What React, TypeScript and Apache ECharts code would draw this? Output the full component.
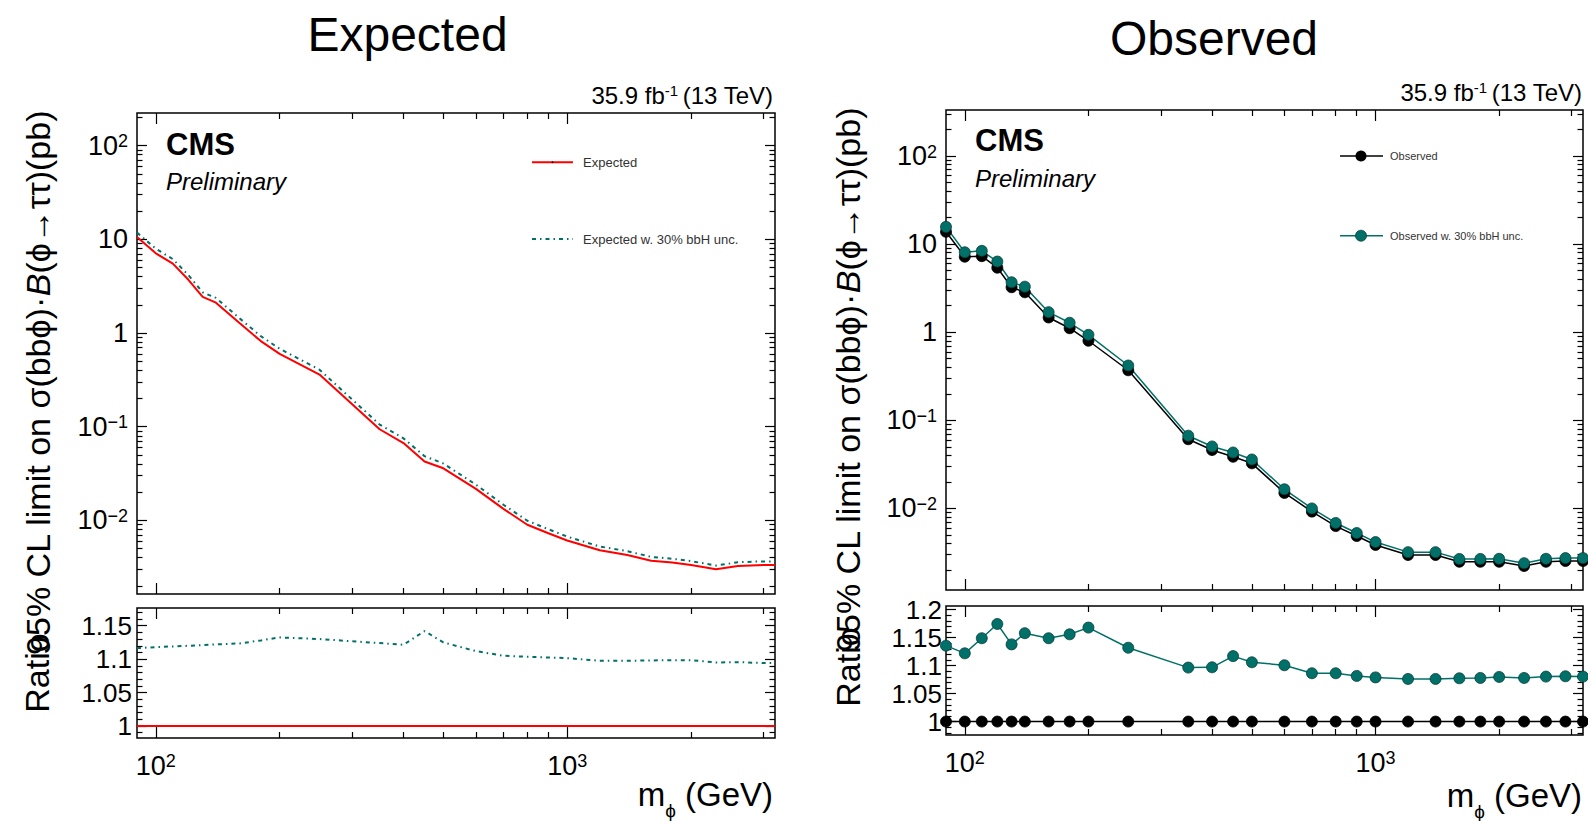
import React, { useEffect, useRef } from 'react';
import * as echarts from 'echarts';

const FONT = "'Liberation Sans', Arial, Helvetica, sans-serif";
const TEAL = '#007068';

// ---- data ----
const masses = [90, 100, 110, 120, 130, 140, 160, 180, 200, 250, 350, 400, 450, 500, 600, 700, 800, 900, 1000, 1200, 1400, 1600, 1800, 2000, 2300, 2600, 2900, 3200];

const expected = [10.6, 7.1, 5.5, 3.7, 2.43, 2.11, 1.27, 0.82, 0.6, 0.36, 0.094, 0.067, 0.0425, 0.036, 0.0217, 0.0133, 0.009, 0.0073, 0.0061, 0.0048, 0.00428, 0.00372, 0.00355, 0.00335, 0.00301, 0.00327, 0.00333, 0.00335];
const expected30 = [11.8, 7.95, 6.15, 4.15, 2.72, 2.37, 1.43, 0.925, 0.68, 0.406, 0.1055, 0.0751, 0.0485, 0.0405, 0.0241, 0.0147, 0.00993, 0.00805, 0.00672, 0.00527, 0.0047, 0.00408, 0.0039, 0.00368, 0.0033, 0.00358, 0.00364, 0.00366];
const expectedRatioRef = [1, 1, 1, 1, 1, 1, 1, 1, 1, 1, 1, 1, 1, 1, 1, 1, 1, 1, 1, 1, 1, 1, 1, 1, 1, 1, 1, 1];
const expectedRatio30 = [1.1165, 1.118, 1.119, 1.12, 1.121, 1.122, 1.1235, 1.128, 1.1325, 1.13, 1.124, 1.1215, 1.142, 1.125, 1.112, 1.105, 1.1035, 1.1025, 1.1015, 1.0975, 1.0975, 1.098, 1.0985, 1.0985, 1.095, 1.0955, 1.0945, 1.094];

const observed = [13.8, 7.2, 7.3, 5.4, 3.24, 2.84, 1.47, 1.11, 0.8, 0.37, 0.061, 0.046, 0.0386, 0.0325, 0.015, 0.0092, 0.0063, 0.00486, 0.00385, 0.00296, 0.00296, 0.00248, 0.00248, 0.00248, 0.00222, 0.00248, 0.00253, 0.00253];
const observed30 = [15.7, 8.08, 8.39, 6.34, 3.69, 3.29, 1.69, 1.28, 0.934, 0.419, 0.0669, 0.0505, 0.0431, 0.0359, 0.0165, 0.01, 0.00684, 0.00526, 0.00415, 0.00319, 0.00319, 0.00267, 0.00267, 0.00268, 0.00239, 0.00268, 0.00273, 0.00273];
const observedRatioRef = [1, 1, 1, 1, 1, 1, 1, 1, 1, 1, 1, 1, 1, 1, 1, 1, 1, 1, 1, 1, 1, 1, 1, 1, 1, 1, 1, 1];
const observedRatio30 = [1.1357, 1.122, 1.149, 1.1745, 1.138, 1.158, 1.149, 1.156, 1.168, 1.132, 1.0965, 1.097, 1.117, 1.106, 1.1007, 1.0864, 1.0864, 1.0816, 1.079, 1.0762, 1.0762, 1.0774, 1.078, 1.0798, 1.078, 1.0804, 1.081, 1.0804];

// ---- ticks ----
const X_MIN = 90;
const X_MAX = 3200;
const xMajorTicks = [100, 1000];
const xMinorTicks = [200, 300, 400, 500, 600, 700, 800, 900, 2000, 3000];
const logMajorTicks = [0.001, 0.01, 0.1, 1, 10, 100];
const logDecades = [0.001, 0.01, 0.1, 1, 10, 100];
const logMultipliers = [2, 3, 4, 5, 6, 7, 8, 9];
const logMinorTicks = logDecades.flatMap((d) => logMultipliers.map((m) => +(d * m).toPrecision(3)));
const ratioMajorTicks = [1, 1.05, 1.1, 1.15, 1.2];
const ratioMinorTicks = [0.98, 0.99, 1.01, 1.02, 1.03, 1.04, 1.06, 1.07, 1.08, 1.09, 1.11, 1.12, 1.13, 1.14, 1.16, 1.17, 1.18, 1.19];

const pts = (ys: number[]) => masses.map((m, i) => [m, ys[i]]);

const supRich = (size: number) => ({
  b: { fontSize: size, lineHeight: size, verticalAlign: 'bottom', fontFamily: FONT, color: '#000' },
  s: { fontSize: Math.round(size * 0.66), lineHeight: Math.round(size * 0.52), verticalAlign: 'top', fontFamily: FONT, color: '#000' },
});

const logLabel = (v: number) => {
  const e = Math.round(Math.log10(v));
  if (e === 0) return '{b|1}';
  if (e === 1) return '{b|10}';
  return `{b|10}{s|${e < 0 ? '\u2212' : ''}${Math.abs(e)}}`;
};
const ratioLabel = (v: number) => `{b|${+v.toFixed(2)}}`;

function buildOption() {
  const grids: any[] = [];
  const xAxes: any[] = [];
  const yAxes: any[] = [];
  const series: any[] = [];

  const addGrid = (g: any) => {
    const gridIndex = grids.length;
    grids.push({
      left: g.left, top: g.top, width: g.width, height: g.height,
      show: true, borderColor: '#000', borderWidth: 1.5, backgroundColor: 'transparent',
      containLabel: false, outerBoundsMode: 'none',
    });
    const xBase = xAxes.length;
    for (const pos of ['bottom', 'top']) {
      for (const major of [true, false]) {
        const showLabel = g.xLabels && pos === 'bottom' && major;
        xAxes.push({
          type: 'log', logBase: 10, gridIndex, position: pos, min: X_MIN, max: X_MAX,
          axisLine: { show: false }, splitLine: { show: false }, minorTick: { show: false },
          axisTick: { show: true, inside: true, length: major ? 11 : 6, customValues: major ? xMajorTicks : xMinorTicks, lineStyle: { color: '#000', width: 1.2 } },
          axisLabel: showLabel
            ? { show: true, customValues: xMajorTicks, formatter: logLabel, margin: 14, rich: supRich(27), fontFamily: FONT, color: '#000' }
            : { show: false },
        });
      }
    }
    const yBase = yAxes.length;
    for (const pos of ['left', 'right']) {
      for (const major of [true, false]) {
        const showLabel = pos === 'left' && major;
        yAxes.push({
          type: g.yType, logBase: 10, gridIndex, position: pos, min: g.yMin, max: g.yMax,
          axisLine: { show: false }, splitLine: { show: false }, minorTick: { show: false },
          axisTick: { show: true, inside: true, length: major ? 10 : 5.5, customValues: major ? g.yMajor : g.yMinor, lineStyle: { color: '#000', width: 1.2 } },
          axisLabel: showLabel
            ? { show: true, customValues: g.yMajor, formatter: g.yFmt, margin: g.yMargin, rich: supRich(g.yFont), fontFamily: FONT, color: '#000' }
            : { show: false },
        });
      }
    }
    return { x: xBase, y: yBase };
  };

  const lm = addGrid({ left: 137, top: 113, width: 638, height: 481, yType: 'log', yMin: 0.00164, yMax: 223, yMajor: logMajorTicks, yMinor: logMinorTicks, yFmt: logLabel, yMargin: 9, yFont: 27, xLabels: false });
  const lr = addGrid({ left: 137, top: 608, width: 638, height: 130, yType: 'value', yMin: 0.982, yMax: 1.1765, yMajor: ratioMajorTicks, yMinor: ratioMinorTicks, yFmt: ratioLabel, yMargin: 5, yFont: 26, xLabels: true });
  const rm = addGrid({ left: 946, top: 110, width: 637, height: 480, yType: 'log', yMin: 0.001186, yMax: 333, yMajor: logMajorTicks, yMinor: logMinorTicks, yFmt: logLabel, yMargin: 9, yFont: 27, xLabels: false });
  const rr = addGrid({ left: 946, top: 606, width: 637, height: 129, yType: 'value', yMin: 0.976, yMax: 1.2066, yMajor: ratioMajorTicks, yMinor: ratioMinorTicks, yFmt: ratioLabel, yMargin: 4, yFont: 26, xLabels: true });

  const dashDot = [4, 4, 1.5, 4];
  const lineS = (name: string, ax: any, ys: number[], color: string, width: number, type: any) => ({
    name, type: 'line', xAxisIndex: ax.x, yAxisIndex: ax.y, data: pts(ys), showSymbol: false, symbol: 'none',
    lineStyle: { color, width, type }, itemStyle: { color }, z: 3,
  });
  const markS = (name: string, ax: any, ys: number[], color: string, border: string) => ({
    name, type: 'line', xAxisIndex: ax.x, yAxisIndex: ax.y, data: pts(ys), symbol: 'circle', symbolSize: 11, showSymbol: true,
    lineStyle: { color, width: 1.5 }, itemStyle: { color, borderColor: border, borderWidth: 0.8 }, z: 3,
  });

  series.push(lineS('Expected w. 30% bbH unc.', lm, expected30, TEAL, 2, dashDot));
  series.push(lineS('Expected', lm, expected, '#ff0000', 2, 'solid'));
  series.push(lineS('Expected w. 30% bbH unc. ratio', lr, expectedRatio30, TEAL, 2, dashDot));
  series.push(lineS('Expected ratio', lr, expectedRatioRef, '#ff0000', 2, 'solid'));
  series.push(markS('Observed', rm, observed, '#000', '#000'));
  series.push(markS('Observed w. 30% bbH unc.', rm, observed30, TEAL, '#0a3f3a'));
  series.push(markS('Observed ratio', rr, observedRatioRef, '#000', '#000'));
  series.push(markS('Observed w. 30% bbH unc. ratio', rr, observedRatio30, TEAL, '#0a3f3a'));

  const txt = (text: string, x: number, y: number, extra: any) => ({
    type: 'text', x, y, z: 10,
    style: { text, fill: '#000', fontFamily: FONT, ...extra },
  });
  const lumiRich = {
    a: { fontSize: 24, lineHeight: 24, verticalAlign: 'bottom', fontFamily: FONT, fill: '#000' },
    s: { fontSize: 15, lineHeight: 12, verticalAlign: 'top', fontFamily: FONT, fill: '#000' },
  };
  const yTitleRich = {
    n: { fontSize: 34, fontFamily: FONT, fill: '#000' },
    i: { fontSize: 34, fontFamily: FONT, fontStyle: 'italic', fill: '#000' },
  };
  const xTitleRich = {
    m: { fontSize: 33, lineHeight: 34, verticalAlign: 'top', fontFamily: FONT, fill: '#000' },
    sub: { fontSize: 19, lineHeight: 42, verticalAlign: 'bottom', fontFamily: FONT, fill: '#000' },
  };
  const yTitle = '{n|95% CL limit on \u03c3(bb\u03d5)\u00b7}{i|B}{n|(\u03d5\u2192\u03c4\u03c4)(pb)}';
  const xTitle = '{m|m}{sub|\u03d5}{m| (GeV)}';

  const graphic: any[] = [
    // titles
    txt('Expected', 407.5, 34.5, { fontSize: 48, align: 'center', verticalAlign: 'middle' }),
    txt('Observed', 1214, 38.5, { fontSize: 48, align: 'center', verticalAlign: 'middle' }),
    // lumi
    txt('{a|35.9 fb}{s|-1 }{a|(13 TeV)}', 773, 95, { rich: lumiRich, align: 'right', verticalAlign: 'middle' }),
    txt('{a|35.9 fb}{s|-1 }{a|(13 TeV)}', 1582, 92, { rich: lumiRich, align: 'right', verticalAlign: 'middle' }),
    // CMS
    txt('CMS', 166, 144, { fontSize: 31, fontWeight: 'bold', verticalAlign: 'middle' }),
    txt('Preliminary', 166, 181.5, { fontSize: 24, fontStyle: 'italic', verticalAlign: 'middle' }),
    txt('CMS', 975, 140.5, { fontSize: 31, fontWeight: 'bold', verticalAlign: 'middle' }),
    txt('Preliminary', 975, 178.5, { fontSize: 24, fontStyle: 'italic', verticalAlign: 'middle' }),
    // y titles
    { type: 'text', x: 37.5, y: 383, rotation: Math.PI / 2, z: 10, style: { text: yTitle, rich: yTitleRich, align: 'center', verticalAlign: 'middle', fill: '#000', fontFamily: FONT, fontSize: 34 } },
    { type: 'text', x: 848, y: 380, rotation: Math.PI / 2, z: 10, style: { text: yTitle, rich: yTitleRich, align: 'center', verticalAlign: 'middle', fill: '#000', fontFamily: FONT, fontSize: 34 } },
    { type: 'text', x: 37, y: 673, rotation: Math.PI / 2, z: 10, style: { text: 'Ratio', align: 'center', verticalAlign: 'middle', fill: '#000', fontFamily: FONT, fontSize: 34 } },
    { type: 'text', x: 848, y: 667, rotation: Math.PI / 2, z: 10, style: { text: 'Ratio', align: 'center', verticalAlign: 'middle', fill: '#000', fontFamily: FONT, fontSize: 34 } },
    // x titles
    txt(xTitle, 773, 778, { rich: xTitleRich, align: 'right', verticalAlign: 'top' }),
    txt(xTitle, 1582, 779, { rich: xTitleRich, align: 'right', verticalAlign: 'top' }),
    // left legend
    { type: 'line', z: 10, shape: { x1: 532, y1: 162.3, x2: 573, y2: 162.3 }, style: { stroke: '#ff0000', lineWidth: 2 } },
    { type: 'circle', z: 11, shape: { cx: 552.5, cy: 162.3, r: 0.9 }, style: { fill: '#000' } },
    txt('Expected', 583, 162.3, { fontSize: 13, verticalAlign: 'middle', fill: '#333' }),
    { type: 'line', z: 10, shape: { x1: 532, y1: 239, x2: 573, y2: 239 }, style: { stroke: TEAL, lineWidth: 2, lineDash: dashDot } },
    txt('Expected w. 30% bbH unc.', 583, 239, { fontSize: 13, verticalAlign: 'middle', fill: '#333' }),
    // right legend
    { type: 'line', z: 10, shape: { x1: 1340, y1: 156, x2: 1383, y2: 156 }, style: { stroke: '#000', lineWidth: 1.5 } },
    { type: 'circle', z: 11, shape: { cx: 1361, cy: 156, r: 5.5 }, style: { fill: '#000' } },
    txt('Observed', 1390, 156, { fontSize: 11, verticalAlign: 'middle', fill: '#333' }),
    { type: 'line', z: 10, shape: { x1: 1340, y1: 235.7, x2: 1383, y2: 235.7 }, style: { stroke: TEAL, lineWidth: 1.5 } },
    { type: 'circle', z: 11, shape: { cx: 1361, cy: 235.7, r: 5.5 }, style: { fill: TEAL, stroke: '#0a3f3a', lineWidth: 0.8 } },
    txt('Observed w. 30% bbH unc.', 1390, 235.7, { fontSize: 11, verticalAlign: 'middle', fill: '#333' }),
  ];

  return {
    animation: false,
    backgroundColor: '#fff',
    textStyle: { fontFamily: FONT },
    grid: grids,
    xAxis: xAxes,
    yAxis: yAxes,
    series,
    graphic,
  };
}

export default function App() {
  const ref = useRef<HTMLDivElement>(null);
  useEffect(() => {
    if (!ref.current) return;
    const chart = echarts.init(ref.current, null, { renderer: 'svg' });
    chart.setOption(buildOption() as any);
    return () => chart.dispose();
  }, []);
  return <div ref={ref} style={{ position: 'fixed', left: 0, top: 0, width: 1588, height: 821, background: '#fff' }} />;
}
